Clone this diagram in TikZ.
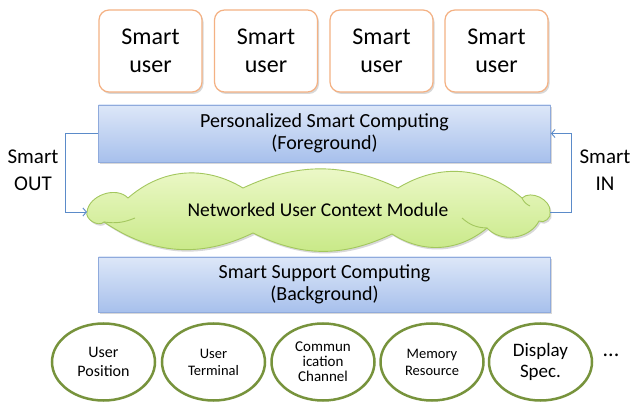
\documentclass[tikz,border=0pt]{standalone}
\usepackage{fontspec}
\setmainfont{Carlito}
\usetikzlibrary{shapes.geometric,shadows,arrows.meta}
\definecolor{userborder}{HTML}{F4B183}
\definecolor{bluetop}{HTML}{DDE7F8}
\definecolor{bluebot}{HTML}{A7C0EC}
\definecolor{blueborder}{HTML}{8FAADC}
\definecolor{cloudtop}{HTML}{EEF9CC}
\definecolor{cloudbot}{HTML}{C6E883}
\definecolor{cloudborder}{HTML}{A3C75E}
\definecolor{circborder}{HTML}{77933C}
\definecolor{connblue}{HTML}{5B8BC9}
\begin{document}
\begin{tikzpicture}[x=1pt,y=-1pt,
  softshadow/.style={drop shadow={shadow xshift=1.5pt,shadow yshift=-2pt,opacity=0.25,fill=black!60}},
  userbox/.style={draw=userborder,line width=1.2pt,fill=white,rounded corners=10pt,
    minimum width=103pt,minimum height=82pt,inner sep=0pt,align=center,softshadow,
    font=\fontsize{24}{28}\selectfont},
  layerbox/.style={draw=blueborder,line width=0.8pt,top color=bluetop,bottom color=bluebot,
    minimum width=452pt,inner sep=0pt,align=center,softshadow,
    font=\fontsize{20}{22}\selectfont},
  cloudshape/.style={draw=cloudborder,line width=0.9pt,top color=cloudtop,bottom color=cloudbot,softshadow},
  seam/.style={draw=cloudborder,line width=0.9pt},
  cloudtext/.style={font=\fontsize{19.5}{22}\selectfont,inner sep=0pt},
  circnode/.style={ellipse,draw=circborder,line width=2.5pt,fill=white,minimum width=103pt,
    minimum height=77pt,inner sep=0pt,align=center},
  sidelabel/.style={align=center,font=\fontsize{21}{27}\selectfont},
  conn/.style={draw=connblue,line width=0.9pt,-{Straight Barb[length=3.5pt,width=8pt]}}
]
\useasboundingbox (0,0) rectangle (637,403);
\fill[white] (0,0) rectangle (637,403);

\node[userbox] (u1) at (150.5,51) {Smart\\user};
\node[userbox] (u2) at (266,51) {Smart\\user};
\node[userbox] (u3) at (381.5,51) {Smart\\user};
\node[userbox] (u4) at (496.5,51) {Smart\\user};

\node[layerbox,minimum height=57pt] (fg) at (324.5,133.5) {Personalized Smart Computing\\(Foreground)};

% cloud
\path[cloudshape] (87,212) to[bend left=65] (128,198) to[bend left=36] (243,188)
  to[bend left=25] (398,188) to[bend left=36] (522,198) to[bend left=70] (550,212)
  to[bend left=75] (539,221) to[bend left=55] (487,228) to[bend left=36] (392,234)
  to[bend left=26] (253,233) to[bend left=30] (104,222) to[bend left=75] (87,212) -- cycle;
\path[seam] (104,222) to[bend right=15] (135,218);
\path[seam] (487,228) to[bend left=20] (462,218);
\path[seam] (522,198) to[bend right=20] (530,206);
\coordinate (clw) at (87,212);
\coordinate (cle) at (550,212);
\node[cloudtext] (cl) at (318,210) {Networked User Context Module};

\node[layerbox,minimum height=55pt] (bg) at (324.5,284.5) {Smart Support Computing\\(Background)};

\node[sidelabel] (out) at (33,170) {Smart\\OUT};
\node[sidelabel] (in) at (605,170) {Smart\\IN};

\draw[conn] (fg.west) -- ++(-33,0) |- (clw);
\draw[conn] (cle) -- ++(21,0) |- (fg.east);

\node[circnode,font=\fontsize{16}{19}\selectfont] (c1) at (103.5,362) {User\\Position};
\node[circnode,font=\fontsize{14.5}{17}\selectfont] (c2) at (213.5,362) {User\\Terminal};
\node[circnode,font=\fontsize{15}{15}\selectfont] (c3) at (323,362) {Commun\\ication\\Channel};
\node[circnode,font=\fontsize{14.5}{17}\selectfont] (c4) at (432,362) {Memory\\Resource};
\node[circnode,font=\fontsize{19}{21}\selectfont] (c5) at (540.5,362) {Display\\Spec.};
\node[font=\fontsize{22}{22}\selectfont] (dots) at (611,355) {...};
\end{tikzpicture}
\end{document}
